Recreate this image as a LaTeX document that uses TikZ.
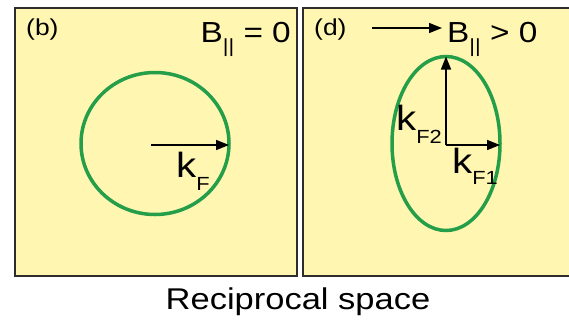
\documentclass[tikz,border=0pt]{standalone}
\usepackage{fontspec}
\setmainfont[FakeStretch=1.15]{Liberation Sans}
\usetikzlibrary{arrows.meta, shapes.geometric}
\definecolor{panelfill}{RGB}{255,246,178}
\definecolor{fermigreen}{RGB}{36,158,72}
\definecolor{frameline}{RGB}{45,45,45}
\newcommand{\lowsub}[2]{\raisebox{#1}{\fontsize{19}{19}\selectfont #2}}

\begin{document}
\begin{tikzpicture}[x=1pt, y=-1pt,
  panel/.style={fill=panelfill, draw=frameline, line width=1.4pt},
  fermi/.style={ellipse, draw=fermigreen, line width=3.5pt, inner sep=0pt, outer sep=0pt},
  vec/.style={-{Triangle[length=13pt, width=10pt]}, line width=1.5pt},
  lab/.style={inner sep=0pt, font=\fontsize{23}{27}\selectfont},
  field/.style={inner sep=0pt, font=\fontsize{29}{33}\selectfont},
  klab/.style={inner sep=0pt, font=\fontsize{35}{39}\selectfont}]
\clip (0,0) rectangle (569,322);
% panels
\draw[panel] (15,8) rectangle (297,276);
\draw[panel] (303,8) rectangle (590,276);
% (b): zero field
\node[lab, anchor=base west] (tagb) at (26,35) {(b)};
\node[field, anchor=base east] (fieldb) at (291,42) {B\lowsub{-10pt}{||} = 0};
\node[fermi, minimum width=148pt, minimum height=142pt] (fsb) at (155,143.5) {};
\coordinate (kb) at (151,145);
\draw[vec] (kb) -- (kb -| fsb.east);
\node[klab, anchor=base west] (kF) at (176,177) {k\lowsub{-13pt}{F}};
% (d): in-plane field
\node[lab, anchor=base west] (tagd) at (314,35) {(d)};
\node[field, anchor=base west] (fieldd) at (447,42) {B\lowsub{-10pt}{||} > 0};
\coordinate (bstart) at (372,28);
\draw[vec, shorten >=5pt] (bstart) -- (bstart -| fieldd.west);
\node[fermi, minimum width=108pt, minimum height=174pt] (fsd) at (446,143.5) {};
\coordinate (kd) at (446,145);
\draw[vec] (kd) -- (kd |- fsd.north);
\draw[vec] (kd) -- (kd -| fsd.east);
\node[klab, anchor=base west] (kF2) at (396,130) {k\lowsub{-13pt}{F2}};
\node[klab, anchor=base west] (kF1) at (452,173) {k\lowsub{-11pt}{F1}};
% caption
\node[inner sep=0pt, anchor=base, font=\fontsize{30}{35}\selectfont] (caption) at (298,309) {Reciprocal space};
\end{tikzpicture}
\end{document}
